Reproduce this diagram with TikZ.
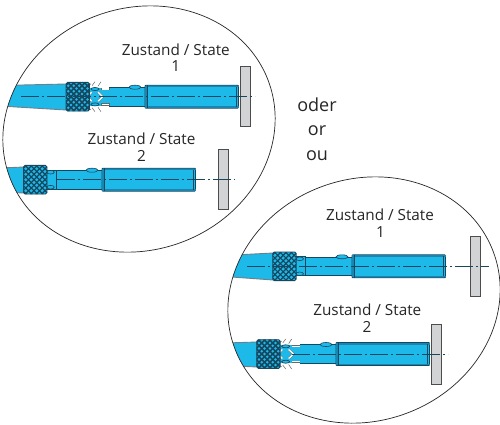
\documentclass[tikz,border=0pt]{standalone}
\usepackage{fontspec}
\setmainfont{Open Sans}
\definecolor{toolblue}{HTML}{1DB9E9}
\definecolor{toolmid}{HTML}{1A86B0}
\definecolor{tooldark}{HTML}{17465F}
\definecolor{plategrey}{HTML}{D1D3D4}
\definecolor{edgegrey}{HTML}{6F7F88}
\tikzset{
  x=1pt,y=-1pt,
  ring/.style={draw=black!85,line width=0.7pt},
  blueshape/.style={fill=toolblue,draw=tooldark,line width=0.8pt},
  handleshape/.style={fill=toolblue},
  handleedge/.style={draw=edgegrey,line width=0.9pt},
  axisline/.style={draw=tooldark,line width=0.8pt,dash pattern=on 18pt off 3pt on 2pt off 3pt},
  plateshape/.style={fill=plategrey,draw=black!70,line width=0.8pt},
  label/.style={font=\fontsize{15.3}{16}\selectfont,inner sep=0pt,text=black!85,anchor=base},
  bigword/.style={font=\fontsize{18}{19}\selectfont,inner sep=0pt,text=black!85,anchor=base},
  sparkwhite/.style={draw=white,line width=1.4pt},
  sparkgrey/.style={draw=black!60,line width=0.5pt},
}
% #1 knurl left, #2 centre y, #3 body left, #4 plate left, #5 axis left, #6 axis right, #7 extras
\newcommand{\toolbody}[7]{%
  \draw[blueshape] (#1+20,#2-9.3) rectangle (#3,#2+9.3);
  \draw[blueshape,line width=0.6pt] (#3-10,#2-9.5) ellipse (6 and 2);
  #7
  \begin{scope}
    \clip[rounded corners=1.5pt] (#1,#2-14.3) rectangle (#1+23.5,#2+14.3);
    \fill[toolblue] (#1,#2-15) rectangle (#1+23.5,#2+15);
    \foreach \k in {-32,-26.5,...,40}{
      \draw[tooldark,line width=\kw pt] (#1+\k,#2-15) -- (#1+\k+30,#2+15);
      \draw[tooldark,line width=\kw pt] (#1+\k,#2+15) -- (#1+\k+30,#2-15);
    }
  \end{scope}
  \draw[tooldark,line width=0.9pt,rounded corners=1.5pt] (#1,#2-14.3) rectangle (#1+23.5,#2+14.3);
  \draw[blueshape,rounded corners=0.8pt] (#3,#2-11.5) rectangle (#3+93.5,#2+11.5);
  \fill[toolmid] (#3,#2-11) rectangle (#3+93.5,#2-9.5);
  \fill[toolmid] (#3,#2+9.5) rectangle (#3+93.5,#2+11);
  \fill[toolmid] (#3,#2-10) rectangle (#3+2.5,#2+10);
  \draw[tooldark,line width=0.6pt] (#3+2.5,#2-11.5) -- (#3+2.5,#2+11.5);
  \draw[tooldark,line width=0.6pt] (#3+91.5,#2-10) -- (#3+91.5,#2+10);
  \draw[plateshape] (#4,#2-30) rectangle (#4+10,#2+30);
  \draw[axisline] (#5,#2) -- (#6,#2);
}
\newcommand{\collar}[2]{%
  \fill[toolblue] (#1+22,#2-10) rectangle (#1+33,#2+10);
  \draw[tooldark,line width=0.8pt] (#1+22,#2-9.5) -- (#1+33,#2-9.5) -- (#1+33,#2+9.5) -- (#1+22,#2+9.5);
  \draw[tooldark,fill=toolblue,line width=0.6pt] (#1+27,#2-7.5) ellipse (3.8 and 1.8);
  \draw[tooldark,fill=toolblue,line width=0.6pt] (#1+27,#2+7.5) ellipse (3.8 and 1.8);
}
\newcommand{\sparks}[2]{%
  \fill[white] (#1+20,#2-11) rectangle (#1+43,#2-9);
  \fill[white] (#1+20,#2+9) rectangle (#1+43,#2+11);
  \fill[toolblue] (#1+20,#2-9) rectangle (#1+43,#2+9);
  \draw[tooldark,fill=toolblue,line width=0.7pt] (#1+29,#2-7.7) ellipse (4 and 1.5);
  \draw[tooldark,fill=toolblue,line width=0.7pt] (#1+29,#2+7.7) ellipse (4 and 1.5);
  \foreach \s in {-1,1}{
    \draw[sparkgrey,line width=2.2pt] (#1+15,#2+\s*7.7) -- (#1+23.5,#2+\s*7.7);
    \draw[sparkgrey,line width=2.2pt] (#1+35,#2+\s*7.7) -- (#1+43.5,#2+\s*7.7);
    \draw[sparkgrey] (#1+26,#2+\s*11) -- (#1+29,#2+\s*15) ;
    \draw[sparkgrey] (#1+32,#2+\s*10.5) -- (#1+35,#2+\s*15);
  }
  \draw[sparkgrey,line width=2.1pt] (#1+25.7,#2-4.5) -- (#1+21.3,#2) -- (#1+25.7,#2+4.5);
  \draw[sparkgrey,line width=2.1pt] (#1+32,#2-4.5) -- (#1+36.7,#2) -- (#1+32,#2+4.5);
  \foreach \s in {-1,1}{
    \draw[sparkwhite] (#1+15.5,#2+\s*7.7) -- (#1+23,#2+\s*7.7);
    \draw[sparkwhite] (#1+35.5,#2+\s*7.7) -- (#1+43,#2+\s*7.7);
    \draw[sparkwhite] (#1+25.7,#2+\s*4.5) -- (#1+21.3,#2);
    \draw[sparkwhite] (#1+32,#2+\s*4.5) -- (#1+36.7,#2);
    \draw[sparkgrey] (#1+21,#2+\s*10) -- (#1+25,#2+\s*13);
  }
}
\begin{document}
\begin{tikzpicture}
\useasboundingbox (0,0) rectangle (500,424);
\fill[white] (0,0) rectangle (500,424);
% upper group
\begin{scope}
  \clip[rotate around={20:(139,129)}] (139,129) ellipse (138 and 121);
  \fill[handleshape] (0,85.5) -- (66,84) -- (66,110) -- (0,106) -- cycle;
  \draw[handleedge] (0,85.5) -- (66,84);
  \draw[handleedge] (0,106) -- (66,110);
  \fill[handleshape] (0,168) -- (24,167) -- (24,193) -- (0,192) -- cycle;
  \draw[handleedge] (0,168) -- (24,167);
  \draw[handleedge] (0,192) -- (24,193);
\end{scope}
\draw[ring,rotate around={20:(139,129)}] (139,129) ellipse (138 and 121);
\def\kw{1.5}
\toolbody{66}{96.7}{145}{240.7}{21}{255}{\sparks{66}{96.7}}
\def\kw{1.2}
\toolbody{23.5}{179.7}{102}{218.7}{57}{235}{\collar{23.5}{179.7}}
\node[label] (s1) at (175.8,55) {Zustand / State};
\node[label] (n1) at (175.8,71.5) {1};
\node[label] (s2) at (141.5,144.3) {Zustand / State};
\node[label] (n2) at (141.5,161) {2};
% lower group
\begin{scope}
  \clip[rotate around={20:(364,300)}] (364,300) ellipse (138 and 121);
  \fill[handleshape] (225,255.5) -- (273,253) -- (273,280) -- (225,276.5) -- cycle;
  \draw[handleedge] (225,255.5) -- (273,253);
  \draw[handleedge] (225,276.5) -- (273,280);
  \fill[handleshape] (225,343) -- (257,342) -- (257,367) -- (225,365.5) -- cycle;
  \draw[handleedge] (225,343) -- (257,342);
  \draw[handleedge] (225,365.5) -- (257,367);
\end{scope}
\draw[ring,rotate around={20:(364,300)}] (364,300) ellipse (138 and 121);
\def\kw{1.2}
\toolbody{272.7}{266.3}{352}{470.7}{247}{489}{\collar{272.7}{266.3}}
\def\kw{1.5}
\toolbody{256.7}{354}{336}{431.7}{292}{448}{\sparks{256.7}{354}}
\node[label] (s3) at (380,220.7) {Zustand / State};
\node[label] (n3) at (380.5,237.3) {1};
\node[label] (s4) at (367.3,315.3) {Zustand / State};
\node[label] (n4) at (367,332) {2};
% alternatives
\node[bigword] (w1) at (317,111) {oder};
\node[bigword] (w2) at (317,135) {or};
\node[bigword] (w3) at (317,160) {ou};
\end{tikzpicture}
\end{document}
